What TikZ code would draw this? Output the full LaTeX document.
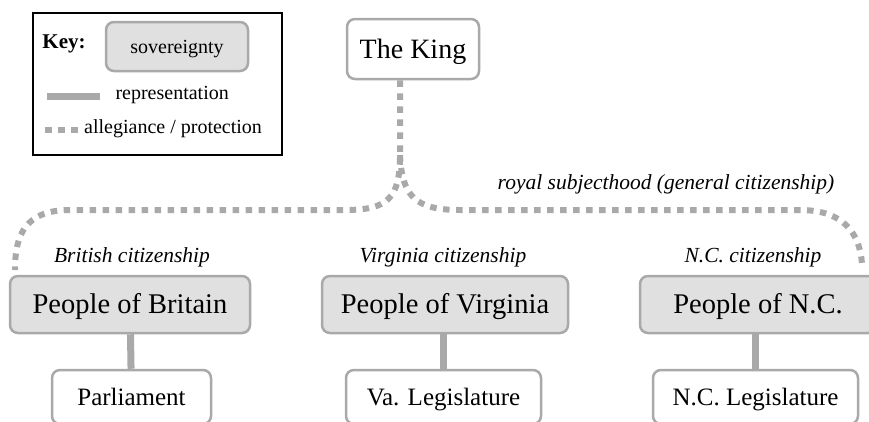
\documentclass[tikz,border=0pt]{standalone}
\usepackage{fontspec}
\setmainfont{Liberation Serif}
\usetikzlibrary{calc}
\definecolor{linegray}{HTML}{A9A9A9}
\definecolor{fillgray}{HTML}{E0E0E0}
\tikzset{
    box/.style={draw=linegray, line width=2.5pt, rounded corners=8pt, align=center, inner sep=0pt, text depth=0pt},
    sov/.style={box, fill=fillgray},
    inst/.style={box, fill=white},
    peopletxt/.style={font=\fontsize{28.5}{30}\selectfont, text height=18.8pt},
    legtxt/.style={font=\fontsize{25}{27}\selectfont, text height=16.5pt},
    kingtxt/.style={font=\fontsize{28}{30}\selectfont, text height=18.5pt},
    lbl/.style={font=\itshape\fontsize{21.5}{23}\selectfont, inner sep=0pt},
    keytxt/.style={font=\fontsize{20}{22}\selectfont},
    rep/.style={draw=linegray, line width=7pt},
    alleg/.style={draw=linegray, line width=6pt, dash pattern=on 6.5pt off 6.5pt}
}
\begin{document}
\begin{tikzpicture}[x=1pt, y=-1pt]

% Bildausschnitt
\clip (0,0) rectangle (869,421);
\fill[white] (0,0) rectangle (869,421);

% Legende
\draw[line width=2.5pt] (33,13) rectangle (282,155);
\node[font=\bfseries\fontsize{21}{23}\selectfont] (keylbl) at (64,44) {Key:};
\node[sov, keytxt, text height=13.2pt, minimum width=142pt, minimum height=49pt] (keysov) at (177,46.5) {sovereignty};
\coordinate (keyrepA) at (47,96);
\coordinate (keyrepB) at (100,96);
\draw[rep] (keyrepA) -- (keyrepB);
\node[anchor=west, keytxt] (keyrep) at (112,95) {representation};
\coordinate (keyallA) at (45,130);
\coordinate (keyallB) at (79,130);
\draw[alleg] (keyallA) -- (keyallB);
\node[anchor=west, inner sep=1pt, keytxt] (keyall) at (83,129) {allegiance / protection};

% Koenig
\node[inst, kingtxt, minimum width=132pt, minimum height=60pt] (king) at (413,49) {The King};

% Souveraene Voelker
\node[sov, peopletxt, minimum width=240pt, minimum height=57pt] (britain) at (130,304.5) {People of Britain};
\node[sov, peopletxt, minimum width=246pt, minimum height=57pt] (virginia) at (445,304.5) {People of Virginia};
\node[sov, peopletxt, minimum width=236pt, minimum height=57pt] (nc) at (758,304.5) {People of N.C.};

% Parlamente
\node[inst, legtxt, minimum width=159pt, minimum height=54pt] (parl) at (131.5,397) {Parliament};
\node[inst, legtxt, minimum width=195pt, minimum height=54pt] (valeg) at (443.5,397) {Va. Legislature};
\node[inst, legtxt, minimum width=205pt, minimum height=54pt] (ncleg) at (755.5,397) {N.C. Legislature};

% Vertretung
\draw[rep] (britain) -- (parl);
\draw[rep] (virginia.south -| valeg.north) -- (valeg);
\draw[rep] (nc.south -| ncleg.north) -- (ncleg);

% Treue / Schutz
\coordinate (fork) at (400,155);
\coordinate (brend) at (15,270);
\coordinate (ncend) at (862,264);
\draw[alleg] (king.south -| fork) -- (fork)
    .. controls (400,198) and (388,210) .. (345,210) -- (70,210)
    .. controls (25,210) and (15,235) .. (brend);
\draw[alleg] (fork)
    .. controls (402,196) and (415,210) .. (460,210) -- (800,210)
    .. controls (845,210) and (860,235) .. (ncend);

% Beschriftungen
\node[lbl] (roylbl) at (666,184) {royal subjecthood (general citizenship)};
\node[lbl] (brlbl) at (132,257) {British citizenship};
\node[lbl] (valbl) at (443,257) {Virginia citizenship};
\node[lbl] (nclbl) at (753,257) {N.C. citizenship};

\end{tikzpicture}
\end{document}
